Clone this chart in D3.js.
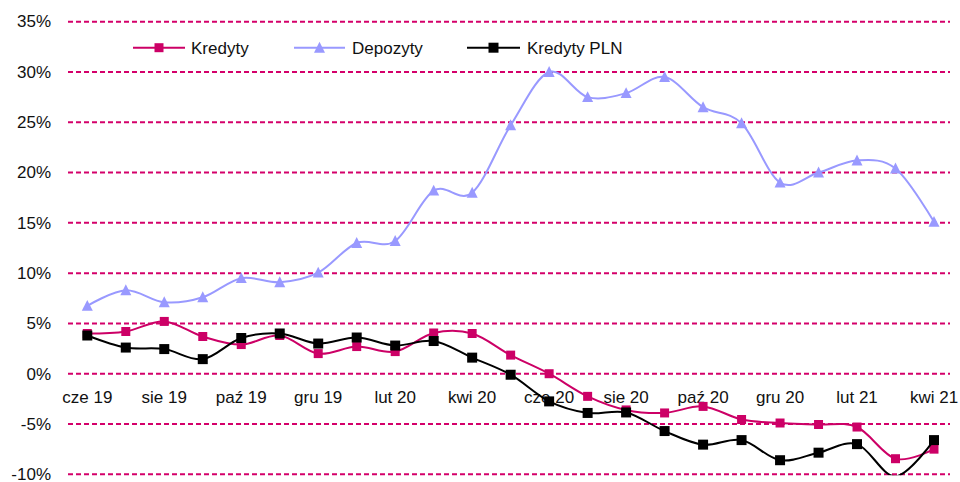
<!DOCTYPE html>
<html>
<head>
<meta charset="utf-8">
<script src="https://cdn.jsdelivr.net/npm/d3@7"></script>
<style>
    body { margin: 0; background: #fff; }
    text { font-family: "Liberation Sans", Arial, sans-serif; fill: #111; }
</style>
</head>
<body>
<div id="chart"></div>
<script>

// data
const months = ["cze 19", "lip 19", "sie 19", "wrz 19", "paź 19", "lis 19", "gru 19", "sty 20",
    "lut 20", "mar 20", "kwi 20", "maj 20", "cze 20", "lip 20", "sie 20", "wrz 20",
    "paź 20", "lis 20", "gru 20", "sty 21", "lut 21", "mar 21", "kwi 21"];

const tickLabels = ["cze 19", "sie 19", "paź 19", "gru 19", "lut 20", "kwi 20",
    "cze 20", "sie 20", "paź 20", "gru 20", "lut 21", "kwi 21"];

const kredyty = [4.0, 4.2, 5.2, 3.7, 2.9, 3.8, 2.0, 2.7, 2.2, 4.05, 4.0, 1.85,
    0.0, -2.25, -3.6, -3.9, -3.25, -4.55, -4.9, -5.05, -5.3, -8.45, -7.5];

const depozyty = [6.75, 8.3, 7.1, 7.6, 9.5, 9.1, 10.05, 13.0, 13.2, 18.2, 18.0, 24.7,
    30.0, 27.5, 27.9, 29.5, 26.5, 24.9, 19.0, 20.0, 21.2, 20.4, 15.1];

const kredytyPLN = [3.8, 2.6, 2.45, 1.45, 3.55, 4.0, 3.0, 3.6, 2.8, 3.25, 1.6, -0.1,
    -2.75, -3.9, -3.85, -5.7, -7.05, -6.6, -8.6, -7.85, -7.0, -10.2, -6.6];

const yTicks = [-10, -5, 0, 5, 10, 15, 20, 25, 30, 35];

const width = 960;
const height = 482;

const svg = d3.select("#chart")
    .append("svg")
    .attr("width", width)
    .attr("height", height);

// scales
const x = d3.scalePoint()
    .domain(months)
    .range([87.3, 934]);

const y = d3.scaleLinear()
    .domain([-10, 35])
    .range([474.3, 21.7]);

svg.append("defs")
    .append("clipPath")
    .attr("id", "plot")
    .append("rect")
    .attr("x", 60)
    .attr("y", y(35) - 2)
    .attr("width", 900)
    .attr("height", y(-10) - y(35) + 3);

// gridlines
svg.selectAll(".grid")
    .data(yTicks)
    .enter()
    .append("line")
    .attr("x1", 68)
    .attr("x2", 950)
    .attr("y1", function(d) { return y(d); })
    .attr("y2", function(d) { return y(d); })
    .attr("stroke", "#D4006A")
    .attr("stroke-width", 2)
    .attr("stroke-dasharray", "5,3");

// y labels
svg.selectAll(".ylab")
    .data(yTicks)
    .enter()
    .append("text")
    .attr("x", 51)
    .attr("y", function(d) { return y(d); })
    .attr("dy", "0.34em")
    .attr("text-anchor", "end")
    .style("font-size", "17px")
    .text(function(d) { return d + "%"; });

// x labels, sitting under the zero line
svg.selectAll(".xlab")
    .data(tickLabels)
    .enter()
    .append("text")
    .attr("x", function(d) { return x(d); })
    .attr("y", y(0) + 29)
    .attr("text-anchor", "middle")
    .style("font-size", "17px")
    .text(function(d) { return d; });

const series = [
    { name: "Kredyty", values: kredyty, color: "#CC0066", marker: "square", size: 9 },
    { name: "Depozyty", values: depozyty, color: "#9999FF", marker: "triangle", size: 11 },
    { name: "Kredyty PLN", values: kredytyPLN, color: "#000000", marker: "square", size: 10 }
];

const line = d3.line()
    .x(function(d) { return x(d.m); })
    .y(function(d) { return y(d.v); })
    .curve(d3.curveCardinal.tension(0));

function markerPath(type, s) {
    if (type === "triangle") {
        const h = s * 0.9;
        return "M0," + (-h / 2 - 1) + "L" + (s / 2) + "," + (h / 2) + "L" + (-s / 2) + "," + (h / 2) + "Z";
    }
    return "M" + (-s / 2) + "," + (-s / 2) + "h" + s + "v" + s + "h" + (-s) + "Z";
}

series.forEach(function(s) {

    const pts = s.values.map(function(v, i) {
        return { m: months[i], v: v };
    });

    const g = svg.append("g");

    g.append("path")
        .datum(pts)
        .attr("d", line)
        .attr("fill", "none")
        .attr("stroke", s.color)
        .attr("stroke-width", 2)
        .attr("clip-path", "url(#plot)");

    // markers outside the axis range are not drawn
    g.selectAll(".mk")
        .data(pts.filter(function(d) { return d.v >= y.domain()[0]; }))
        .enter()
        .append("path")
        .attr("d", markerPath(s.marker, s.size))
        .attr("transform", function(d) {
            return "translate(" + x(d.m) + "," + y(d.v) + ")";
        })
        .attr("fill", s.color);
});

// legend
const legend = [
    { x1: 133, x2: 185, tx: 191 },
    { x1: 294, x2: 345, tx: 352 },
    { x1: 467, x2: 520, tx: 527 }
];

series.forEach(function(s, i) {

    const l = legend[i];
    const ly = 47.7;

    svg.append("line")
        .attr("x1", l.x1)
        .attr("x2", l.x2)
        .attr("y1", ly)
        .attr("y2", ly)
        .attr("stroke", s.color)
        .attr("stroke-width", 2);

    svg.append("path")
        .attr("d", markerPath(s.marker, s.size))
        .attr("transform", "translate(" + ((l.x1 + l.x2) / 2) + "," + ly + ")")
        .attr("fill", s.color);

    svg.append("text")
        .attr("x", l.tx)
        .attr("y", ly)
        .attr("dy", "0.36em")
        .style("font-size", "17px")
        .text(s.name);
});

</script>
</body>
</html>
